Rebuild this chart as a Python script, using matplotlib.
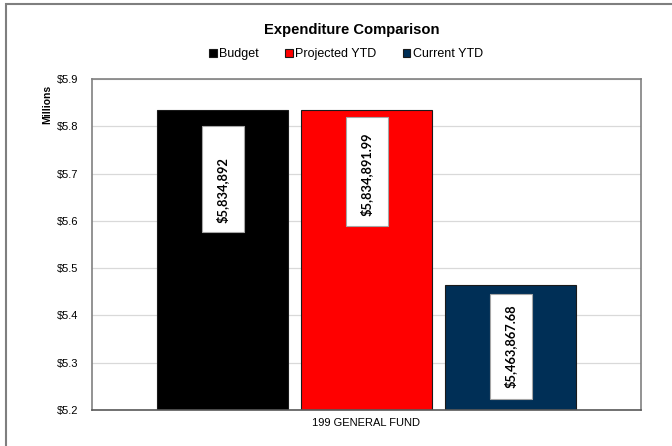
import matplotlib
matplotlib.use("Agg")
import matplotlib.pyplot as plt
from matplotlib.patches import Rectangle

plt.rcParams['font.family'] = ['Liberation Sans', 'DejaVu Sans']

# data
category = "199 GENERAL FUND"
series = ["Budget", "Projected YTD", "Current YTD"]
values = [5834892.00, 5834891.99, 5463867.68]
labels = ["$5,834,892", "$5,834,891.99", "$5,463,867.68"]
colors = ["#000000", "#ff0000", "#002f56"]
yticks = [5.2, 5.3, 5.4, 5.5, 5.6, 5.7, 5.8, 5.9]

# layout (pixels of the 672x446 picture)
W, H = 672, 446
ax_l, ax_r, ax_t, ax_b = 92, 641, 79, 410
px_y = 0.7 / (ax_b - ax_t)
px_x = 1.0 / (ax_r - ax_l)
bar_w = 131 * px_x
step = 144 * px_x
box_gap = [16, 7, 9]
box_len = [106, 109, 105]
text_off = [64, 57, 52]

fig = plt.figure(figsize=(W / 100, H / 100), dpi=100)
ax = fig.add_axes([ax_l / W, 1 - ax_b / H, (ax_r - ax_l) / W, (ax_b - ax_t) / H])

# chart border
fig.patches.append(Rectangle((6 / W, -0.05), 1.2, 1 - 4 / H + 0.05, transform=fig.transFigure,
                             fill=False, edgecolor='#7f7f7f', linewidth=1.5))

handles = []
for i, (name, v, c) in enumerate(zip(series, values, colors)):
    x = (i - 1) * step
    vm = v / 1e6
    b = ax.bar(x, vm - 5.2, bottom=5.2, width=bar_w, color=c, edgecolor='#1a1a1a',
               linewidth=0.8, label=name, zorder=2)
    handles.append(b)
    top = vm - box_gap[i] * px_y
    ax.add_patch(Rectangle((x - 21 * px_x, top - box_len[i] * px_y), 42 * px_x, box_len[i] * px_y,
                           facecolor='white', edgecolor='#a6a6a6', linewidth=0.8, zorder=3))
    ax.text(x, top - text_off[i] * px_y, labels[i], rotation=90, ha='center', va='center',
            fontsize=9.3, fontweight='bold', family=['Lato', 'DejaVu Sans'], zorder=4)

ax.set_xlim(-0.5, 0.5)
ax.set_ylim(5.2, 5.9)
ax.set_yticks(yticks)
ax.set_yticklabels(['${:.1f}'.format(t) for t in yticks], fontsize=8)
ax.set_xticks([0])
ax.set_xticklabels([category], fontsize=8)
ax.tick_params(length=0, pad=6)
ax.tick_params(axis='y', pad=10)
ax.grid(axis='y', color='#d9d9d9', linewidth=0.9, zorder=0)
ax.set_axisbelow(True)
for s in ax.spines.values():
    s.set_color('#808080')
    s.set_linewidth(1.2)
ax.spines['bottom'].set_color('#595959')

ax.set_ylabel('Millions', fontsize=7.5, fontweight='bold')
ax.yaxis.set_label_coords(-0.073, 0.923)

fig.text(352 / W, 1 - 30 / H, 'Expenditure Comparison', ha='center', va='center',
         fontsize=10.6, fontweight='bold')
fig.legend(handles=handles, loc='center', bbox_to_anchor=(346 / W, 1 - 54 / H), ncol=3,
           frameon=False, fontsize=9, handlelength=0.6, handleheight=0.6, handletextpad=0.2,
           columnspacing=2.1)

fig.savefig('out.png', dpi=100)
